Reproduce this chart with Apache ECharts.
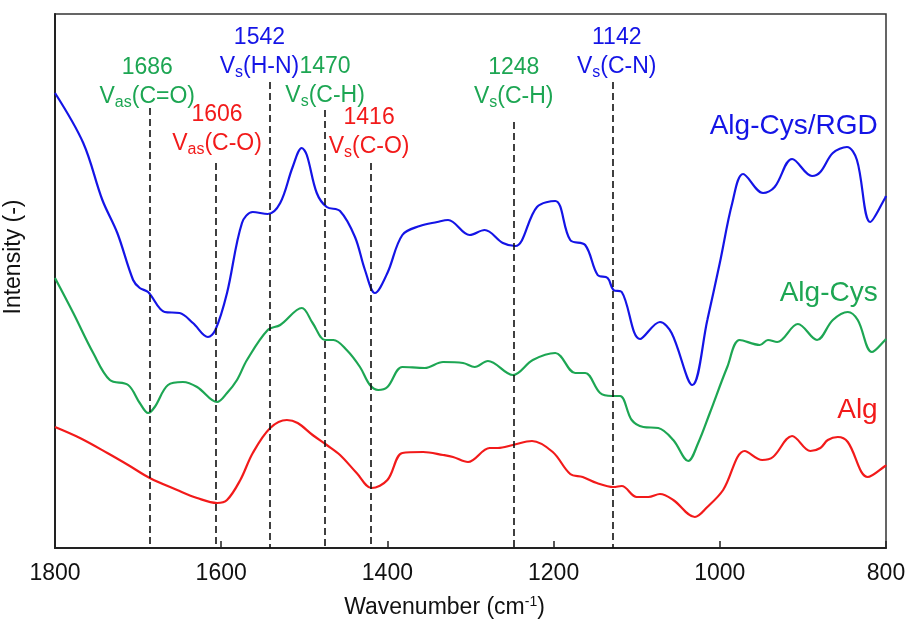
<!DOCTYPE html>
<html><head><meta charset="utf-8">
<script src="https://cdn.jsdelivr.net/npm/echarts@6/dist/echarts.min.js"></script>
<style>html,body{margin:0;padding:0;background:#fff}#c{width:909px;height:625px}</style>
</head><body><div id="c"></div>
<script>
// ---- Data (wavenumber in cm^-1, intensity in arbitrary units) ----
const rgdWn = [1800,1766,1743,1725,1706,1698,1688,1668,1650,1634,1616,1607,1593,1575,1562,1544,1529,1514,1503,1497,1485,1473,1457,1439,1427,1415,1400,1382,1361,1340,1327,1301,1283,1261,1246,1220,1198,1180,1162,1147,1135,1128,1118,1096,1072,1058,1033,1015,1000,985,972,948,934,913,889,879,864,847,835,819,801,800];
const rgdI  = [455,405,348,315,268,260,256,236,235,225,211,218,255,325,336,334,345,381,400,393,355,341,337,311,278,255,275,313,322,326,328,313,318,305,302,341,347,308,303,273,270,258,256,209,226,215,163,228,285,345,374,355,361,389,372,376,395,401,388,326,350,352];

const cysWn = [1800,1778,1754,1734,1712,1698,1688,1680,1664,1646,1629,1605,1593,1581,1569,1544,1529,1503,1490,1475,1465,1449,1433,1421,1411,1400,1382,1355,1333,1309,1295,1279,1249,1225,1198,1174,1162,1144,1130,1120,1106,1092,1074,1056,1038,1026,1012,991,976,952,942,931,906,883,864,846,834,817,801,800];
const cysI  = [270,235,195,168,163,145,135,141,163,166,161,146,155,168,188,218,223,240,225,208,208,198,181,163,158,161,181,180,186,185,181,187,173,188,195,175,175,155,152,152,128,121,120,108,87,105,135,181,208,203,208,206,224,208,228,236,228,196,208,209];

const algWn = [1800,1770,1737,1712,1686,1653,1629,1605,1593,1577,1562,1541,1521,1508,1490,1473,1457,1437,1419,1400,1382,1357,1333,1321,1303,1277,1267,1249,1226,1201,1180,1165,1148,1128,1118,1100,1086,1072,1056,1030,1015,996,970,949,936,913,891,879,870,858,846,822,801,800];
const algI  = [121,110,95,83,70,58,50,45,48,68,95,120,128,125,113,103,93,75,60,68,95,96,93,91,86,100,100,103,107,96,74,71,65,61,62,51,51,54,48,31,41,58,97,88,91,112,97,100,108,111,106,71,82,83];

const seriesNames = ['Alg-Cys/RGD','Alg-Cys','Alg'];

// Peak annotations
const peakText  = ['1686','1606','1542','1470','1416','1248','1142'];
const peakSub   = ['as','as','s','s','s','s','s'];
const peakBond  = ['(C=O)','(C-O)','(H-N)','(C-H)','(C-O)','(C-H)','(C-N)'];
const peakLineWn = [1686,1606,1542,1475,1420,1248,1129];

// ---- Layout / style ----
const FONT = 'Liberation Sans, Arial, sans-serif';
const BLUE = '#1414E6', GREEN = '#1DA653', RED = '#F21A1A';
const seriesColors = [BLUE, GREEN, RED];
const peakColor = [GREEN, RED, BLUE, GREEN, RED, GREEN, BLUE];
const peakLineTop = [440,385,466,438,385,426,466];
const peakLabelWn = [1689,1605,1554,1475,1422,1248,1124];
const peakLabelI  = [466,419,496,467,416,466,496];
const nameLabelWn = [810,810,810];
const nameLabelI  = [422,255,138];

const zip = (a,b) => a.map((v,i)=>[v,b[i]]);
const seriesData = [zip(rgdWn,rgdI), zip(cysWn,cysI), zip(algWn,algI)];

const chart = echarts.init(document.getElementById('c'), null, {renderer:'canvas'});

const annSeries = {
  type:'line', data:[], z:1, silent:true,
  markLine:{
    silent:true, symbol:['none','none'], animation:false,
    lineStyle:{type:[7,4], color:'#111', width:1.6},
    label:{show:false},
    data: peakLineWn.map((w,i)=>[{coord:[w,peakLineTop[i]]},{coord:[w,0]}])
  },
  markPoint:{
    silent:true, animation:false, symbol:'circle', symbolSize:0,
    data: peakText.map((t,i)=>({
      coord:[peakLabelWn[i], peakLabelI[i]],
      itemStyle:{color:'transparent'},
      label:{
        show:true, position:'inside',
        formatter: '{n|'+t+'}\n{v|V}{s|'+peakSub[i]+'}{v|'+peakBond[i]+'}',
        rich:{
          n:{fontSize:23, lineHeight:29, color:peakColor[i], fontFamily:FONT},
          v:{fontSize:23, lineHeight:29, color:peakColor[i], fontFamily:FONT},
          s:{fontSize:16, lineHeight:14, verticalAlign:'bottom', color:peakColor[i], fontFamily:FONT}
        }
      }
    })).concat(seriesNames.map((nm,i)=>({
      coord:[nameLabelWn[i], nameLabelI[i]],
      itemStyle:{color:'transparent'},
      label:{show:true, position:'left', distance:0, formatter:nm,
        color:seriesColors[i], fontSize:28, fontFamily:FONT}
    })))
  }
};

const lineSeries = seriesNames.map((nm,i)=>({
  name:nm, type:'line', data:seriesData[i], z:3,
  showSymbol:false, smooth:0.35, silent:true,
  lineStyle:{color:seriesColors[i], width:2.2},
  itemStyle:{color:seriesColors[i]}
}));

chart.setOption({
  animation:false,
  backgroundColor:'#fff',
  grid:{left:55, right:23, top:14, bottom:77, outerBoundsMode:'none', containLabel:false,
        show:true, borderColor:'#333', borderWidth:1.5, backgroundColor:'transparent'},
  xAxis:{
    type:'value', inverse:true, min:800, max:1800, interval:200,
    axisLine:{show:true, lineStyle:{color:'#222', width:2}},
    axisTick:{show:true, inside:true, length:7, lineStyle:{color:'#222', width:1.5}},
    axisLabel:{color:'#111', fontSize:23, fontFamily:FONT, margin:14, showMinLabel:true, showMaxLabel:true,
               formatter:(v)=>String(v)},
    splitLine:{show:false},
    name:'{a|Wavenumber (cm}{b|-1}{a|)}',
    nameLocation:'middle', nameGap:47,
    nameTextStyle:{padding:[0,52,0,0], rich:{
      a:{fontSize:23, lineHeight:26, color:'#111', fontFamily:FONT},
      b:{fontSize:14, lineHeight:14, verticalAlign:'top', color:'#111', fontFamily:FONT}
    }}
  },
  yAxis:{
    type:'value', min:0, max:534,
    axisLine:{show:true, lineStyle:{color:'#222', width:2}},
    axisTick:{show:false}, axisLabel:{show:false}, splitLine:{show:false},
    name:'Intensity (-)', nameLocation:'middle', nameGap:30,
    nameTextStyle:{fontSize:23, color:'#111', fontFamily:FONT, padding:[0,0,0,48]}
  },
  series:[annSeries].concat(lineSeries)
});
</script>
</body></html>
